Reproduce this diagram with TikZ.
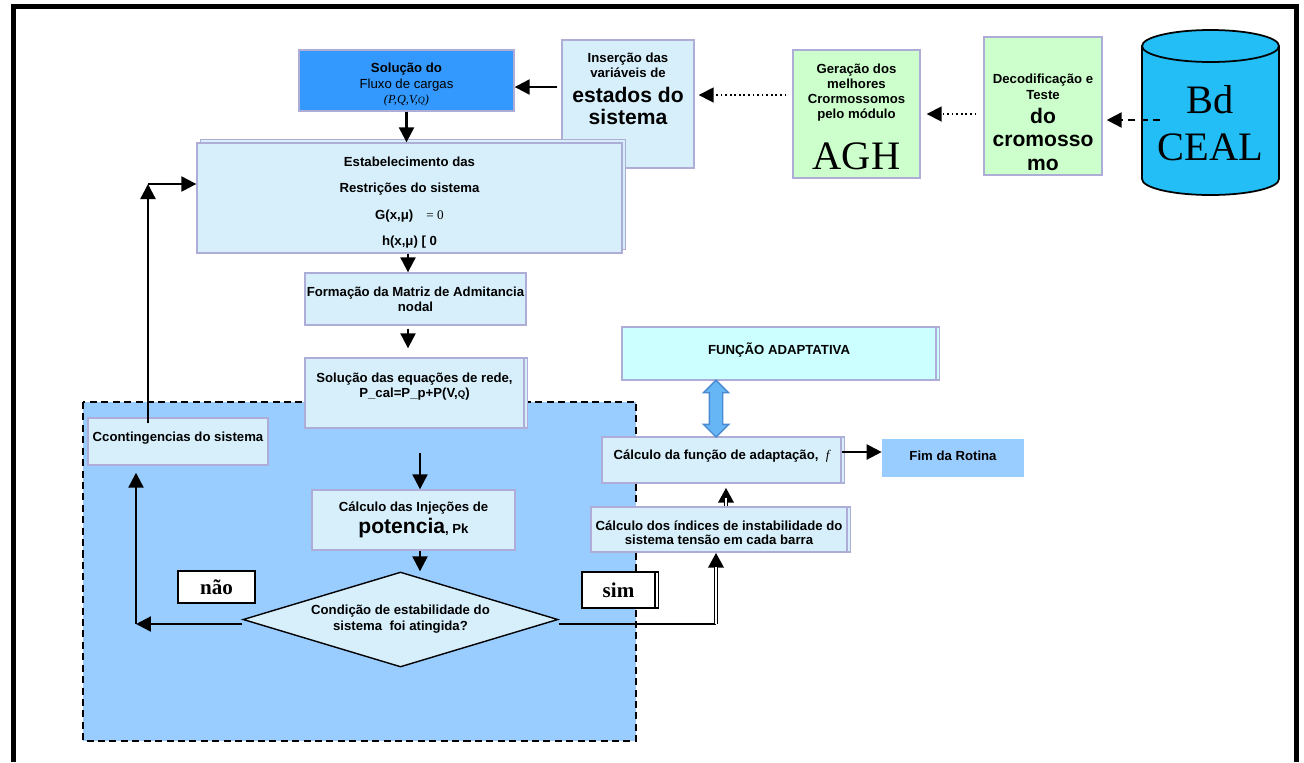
\documentclass[tikz,border=0pt]{standalone}
\usepackage{fontspec}
\setmainfont{Liberation Sans}
\newfontfamily\timesfont{Liberation Serif}
\usepackage{tikz}
\usetikzlibrary{arrows.meta,positioning,calc,shapes.geometric,shapes.arrows,shadows}
\definecolor{boxfill}{HTML}{D6EFFB}
\definecolor{boxline}{HTML}{ADADD8}
\definecolor{flowblue}{HTML}{3399FF}
\definecolor{zoneblue}{HTML}{99CCFF}
\definecolor{genegreen}{HTML}{CCFFCC}
\definecolor{fitcyan}{HTML}{CCFFFF}
\definecolor{dbcyan}{HTML}{22BEF5}
\definecolor{linkblue}{HTML}{66B5F5}
\definecolor{linkline}{HTML}{4A8AD0}
\newcommand{\smb}{\fontsize{7.5}{8.5}\selectfont\bfseries}
\newcommand{\bgb}{\fontsize{12}{12.5}\selectfont\bfseries}
\newcommand{\topbox}[4]{\parbox[c][#2][t]{#1}{\centering\vspace*{#3}#4\par}}
\tikzset{
  box/.style={draw=boxline,fill=boxfill,line width=.8pt,inner sep=0pt},
  flowbox/.style={box,fill=flowblue},
  genebox/.style={box,fill=genegreen},
  fitbox/.style={box,fill=fitcyan},
  endbox/.style={fill=zoneblue,inner sep=0pt},
  tagbox/.style={draw=black,fill=white,line width=1pt,inner sep=0pt},
  dbl/.style={copy shadow={shadow xshift=0.07cm,shadow yshift=0cm}},
  decision/.style={diamond,draw=black,fill=boxfill,line width=.8pt,inner sep=0pt,aspect=3.3,align=center},
  zone/.style={draw=black,fill=zoneblue,line width=1.1pt,dash pattern=on 4pt off 2.5pt},
  frame/.style={line width=0.1cm},
  arr/.style={-{Triangle[length=3mm,width=3mm]},line width=1.3pt},
  dotarr/.style={arr,line width=1pt,dash pattern=on 1pt off 1.6pt},
  dasharr/.style={arr,dash pattern=on 4pt off 3pt},
  dblarr/.style={arr,line width=2.2pt,postaction={draw=white,line width=.6pt,-,shorten >=2.8mm}},
  bothway/.style={double arrow,draw=linkline,fill=linkblue,line width=.8pt,inner sep=0.12cm,
    double arrow head extend=0.12cm,double arrow tip angle=90}
}

\begin{document}
\begin{tikzpicture}[x=0.02cm,y=-0.02cm]
\useasboundingbox (0,0) rectangle (1304,762);
\draw[frame] (13.5,762) -- (13.5,6.5) -- (1296,6.5) -- (1296,762);
\draw[zone] (83,402) rectangle (636,741);

% upper chain
\node[flowbox] (solfluxo) at (406.5,80.5) {\topbox{4.3cm}{1.22cm}{0.26cm}{{\smb Solução do\par}{\fontsize{7.5}{8.8}\selectfont Fluxo de cargas\par}{\fontsize{7}{8.8}\selectfont\timesfont\itshape (P,Q,V,{\fontsize{5.5}{6}\selectfont Q})\par}}};
\node[box] (insercao) at (628,104) {\topbox{2.64cm}{2.56cm}{0.26cm}{{\smb Inserção das\\variáveis de\par}\vspace{1.5pt}{\bgb estados do\\sistema\par}}};
\node[genebox] (geracao) at (856.5,114) {\topbox{2.54cm}{2.56cm}{0.28cm}{{\smb Geração dos\\melhores\\Crormossomos\\pelo módulo\par}{\fontsize{23}{29}\selectfont\timesfont AGH\par}}};
\node[genebox] (decod) at (1043,106) {\topbox{2.36cm}{2.76cm}{0.74cm}{{\fontsize{7.5}{9}\selectfont\bfseries Decodificação e\\Teste\par}{\fontsize{12}{13.5}\selectfont\bfseries do\\cromosso\\mo\par}}};
\filldraw[fill=dbcyan,line width=1pt] (1142,46) -- (1142,179) arc[start angle=180,end angle=360,x radius=1.37cm,y radius=0.32cm] -- (1279,46) arc[start angle=0,end angle=180,x radius=1.37cm,y radius=0.32cm] -- cycle;
\draw[line width=1pt] (1142,46) arc[start angle=180,end angle=360,x radius=1.37cm,y radius=0.32cm];
\node[align=center,inner sep=0pt,font=\fontsize{23}{27}\selectfont\timesfont] (db) at (1210.5,123) {Bd\\CEAL};
\coordinate (dbport) at (1160,120);

\node[box,copy shadow={shadow xshift=0.07cm,shadow yshift=0.07cm}] (estab) at (409.5,198) {\topbox{8.5cm}{2.2cm}{0.28cm}{\fontsize{7.5}{15}\selectfont\bfseries Estabelecimento das\\Restrições do sistema\\G(x,μ)\quad{\mdseries\timesfont = 0}\\h(x,μ) [ 0\par}};
\node[box] (formacao) at (415.5,299) {\topbox{4.42cm}{1.04cm}{0.28cm}{\smb Formação da Matriz de Admitancia\\nodal\par}};
\node[box,dbl] (solequ) at (414.5,393) {\topbox{4.38cm}{1.4cm}{0.3cm}{\smb Solução das equações de rede,\\P\_cal=P\_p+P(V,{\fontsize{5.5}{6}\selectfont Q})\par}};

% stability loop
\node[box] (cont) at (178,441.5) {\topbox{3.6cm}{0.94cm}{0.28cm}{\smb Ccontingencias do sistema\par}};
\node[box] (inj) at (413.5,520) {\topbox{4.06cm}{1.2cm}{0.24cm}{{\smb Cálculo das Injeções de\par}{\bgb potencia{\fontsize{7.5}{8}\selectfont, Pk}\par}}};
\node[decision,minimum width=6.3cm,minimum height=1.9cm,font=\fontsize{7.5}{9}\selectfont\bfseries] (cond) at (400.5,619.5) {Condição de estabilidade do\\sistema\ \ foi atingida?};
\node[tagbox,minimum width=1.54cm,minimum height=0.64cm] (nao) at (216.5,587) {\fontsize{12}{12}\selectfont\timesfont\bfseries não};
\node[tagbox,dbl,minimum width=1.46cm,minimum height=0.72cm] (sim) at (618.5,590) {\fontsize{12}{12}\selectfont\timesfont\bfseries sim};

% fitness side
\node[fitbox,dbl] (funcao) at (779,353.5) {\topbox{6.28cm}{1.06cm}{0.32cm}{\smb FUNÇÃO ADAPTATIVA\par}};
\node[box,dbl] (adapt) at (721.5,460) {\topbox{4.78cm}{0.92cm}{0.26cm}{\smb Cálculo da função de adaptação,\ \ {\mdseries\itshape\timesfont f}\par}};
\node[endbox] (fim) at (953,458) {\topbox{2.84cm}{0.76cm}{0.24cm}{\smb Fim da Rotina\par}};
\node[box,dbl] (indices) at (719,529.5) {\topbox{5.12cm}{0.9cm}{0.28cm}{\fontsize{7.5}{8}\selectfont\bfseries Cálculo dos índices de instabilidade do\\sistema tensão em cada barra\par}};
\node[bothway,minimum height=1.14cm,rotate=90] (link) at (716,408.5) {};

\coordinate (col) at (408,0);
\coordinate (inx) at (420,0);
\coordinate (naocorner) at (136,624);
\coordinate (contcorner) at (148,184);
\coordinate (simcorner) at (716,624);

\draw[arr,shorten <=0.08cm] ([yshift=-0.13cm]solfluxo.east -| insercao.west) -- ([yshift=-0.13cm]solfluxo.east);
\draw[dotarr,shorten <=0.12cm,shorten >=0.08cm] ([yshift=0.38cm]geracao.west) -- ([yshift=0.38cm]geracao.west -| insercao.east);
\draw[dotarr,shorten <=0.14cm,shorten >=0.12cm] (decod.west |- geracao.east) -- (geracao.east);
\draw[dasharr,shorten >=0.08cm] (dbport) -- (dbport -| decod.east);
\draw[arr] (solfluxo.south) -- (solfluxo.south |- estab.north);
\draw[arr] (col |- estab.south) -- (col |- formacao.north);
\draw[arr,shorten <=0.06cm,shorten >=0.18cm] (col |- formacao.south) -- (col |- solequ.north);
\draw[arr,shorten <=0.48cm] (inx |- solequ.south) -- (inx |- inj.north);
\draw[arr] (inx |- inj.south) -- (inx |- cond.north);
\draw[arr] (cond.west |- naocorner) -- (naocorner);
\draw[arr,shorten >=0.14cm] (naocorner) -- (naocorner |- cont.south);
\draw[arr,shorten <=-0.12cm] (contcorner |- cont.north) -- (contcorner);
\draw[arr] (contcorner) -- (contcorner -| estab.west);
\draw[line width=1.3pt] (cond.east |- simcorner) -- (simcorner);
\draw[dblarr] (simcorner) -- (simcorner |- indices.south);
\draw[dblarr,shorten >=0.08cm] ([xshift=0.14cm]indices.north) -- ([xshift=0.14cm]indices.north |- adapt.south);
\draw[arr] ([yshift=0.16cm]adapt.east) -- ([yshift=0.16cm]adapt.east -| fim.west);
\end{tikzpicture}
\end{document}
